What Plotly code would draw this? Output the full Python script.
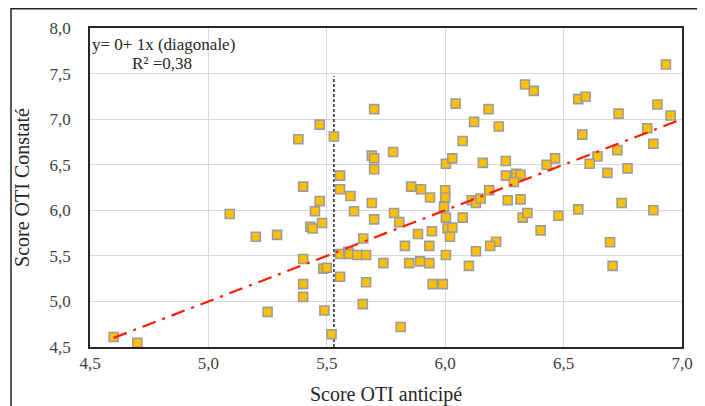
import plotly.graph_objects as go

# Anticipated score (x) and observed score (y)
score_anticipe = [
    4.60, 4.70, 5.09, 5.20, 5.29, 5.25, 5.38, 5.40, 5.47, 5.47,
    5.45, 5.43, 5.44, 5.48, 5.40, 5.485, 5.50, 5.40, 5.40, 5.49,
    5.52, 5.53, 5.556, 5.556, 5.60, 5.69, 5.615, 5.70, 5.70, 5.69,
    5.70, 5.78, 5.70, 5.784, 5.806, 5.856, 5.898, 5.936, 6.00, 6.00,
    5.995, 6.003, 6.01, 6.03, 6.02, 5.885, 5.944, 5.654, 5.83, 5.933,
    5.556, 5.59, 5.595, 5.629, 5.666, 5.739, 5.848, 5.894, 5.933, 6.003,
    5.556, 5.666, 5.947, 5.99, 5.652, 5.812, 6.003, 6.03, 6.337, 6.374,
    6.044, 6.183, 6.122, 6.226, 6.074, 6.159, 6.256, 6.464, 6.428, 6.256,
    6.30, 6.318, 6.29, 6.186, 6.112, 6.13, 6.15, 6.264, 6.318, 6.074,
    6.327, 6.347, 6.478, 6.403, 6.215, 6.19, 6.13, 6.10, 6.932, 6.562,
    6.593, 6.732, 6.896, 6.952, 6.579, 6.853, 6.879, 6.727, 6.643, 6.61,
    6.685, 6.77, 6.745, 6.562, 6.879, 6.696, 6.707,
]
score_constate = [
    4.61, 4.545, 5.96, 5.71, 5.73, 4.885, 6.78, 6.26, 6.94, 6.10,
    5.99, 5.82, 5.80, 5.86, 5.465, 5.36, 5.37, 5.19, 5.05, 4.90,
    4.64, 6.81, 6.38, 6.23, 6.157, 6.08, 5.99, 5.90, 7.11, 6.60,
    6.57, 6.64, 6.45, 5.97, 5.87, 6.26, 6.23, 6.14, 6.22, 6.14,
    6.04, 5.92, 5.80, 5.81, 5.71, 5.74, 5.77, 5.69, 5.61, 5.61,
    5.52, 5.545, 5.52, 5.51, 5.51, 5.42, 5.42, 5.44, 5.42, 5.51,
    5.27, 5.21, 5.19, 5.19, 4.97, 4.72, 6.51, 6.57, 7.38, 7.31,
    7.17, 7.11, 6.97, 6.92, 6.76, 6.52, 6.54, 6.57, 6.50, 6.38,
    6.40, 6.39, 6.31, 6.22, 6.11, 6.08, 6.13, 6.11, 6.12, 5.92,
    5.92, 5.97, 5.94, 5.78, 5.655, 5.61, 5.55, 5.39, 7.60, 7.22,
    7.245, 7.06, 7.16, 7.04, 6.83, 6.90, 6.73, 6.66, 6.59, 6.51,
    6.41, 6.46, 6.08, 6.01, 6.00, 5.65, 5.39,
]

# Diagonal reference line y = x
diag_x = [4.6, 7.0]
diag_y = [4.6, 7.0]

# Vertical dashed marker line
vline_x = [5.53, 5.53]
vline_y = [4.5, 7.47]

x_ticks = [4.5, 5.0, 5.5, 6.0, 6.5, 7.0]
x_tick_labels = ["4,5", "5,0", "5,5", "6,0", "6,5", "7,0"]
y_ticks = [4.5, 5.0, 5.5, 6.0, 6.5, 7.0, 7.5, 8.0]
y_tick_labels = ["4,5", "5,0", "5,5", "6,0", "6,5", "7,0", "7,5", "8,0"]

FONT = "Liberation Serif, Times New Roman, serif"

fig = go.Figure()

fig.add_trace(go.Scatter(
    x=vline_x, y=vline_y, mode="lines",
    line=dict(color="#262626", width=1.5, dash="3px,2px"),
    hoverinfo="skip", showlegend=False,
))

fig.add_trace(go.Scatter(
    x=score_anticipe, y=score_constate, mode="markers",
    marker=dict(symbol="square", size=9, color="#FFC000",
                line=dict(color="#9C9C9C", width=1.6)),
    showlegend=False,
))

fig.add_trace(go.Scatter(
    x=diag_x, y=diag_y, mode="lines",
    line=dict(color="#FF1A00", width=2.2, dash="14px,7px,3px,7px"),
    hoverinfo="skip", showlegend=False,
))

fig.update_layout(
    width=697, height=398,
    margin=dict(l=82, r=23, t=20, b=59),
    paper_bgcolor="white", plot_bgcolor="white",
    font=dict(family=FONT, color="#404040", size=17),
    xaxis=dict(
        range=[4.5, 7.0], tickvals=x_ticks, ticktext=x_tick_labels,
        showgrid=True, gridcolor="#D9D9D9", gridwidth=1,
        zeroline=False, showline=True, mirror=True,
        linecolor="#262626", linewidth=1.5, automargin=False,
        ticks="", ticklabelstandoff=0,
        tickfont=dict(family=FONT, size=17, color="#404040"),
        title=dict(text="Score OTI anticipé", standoff=16,
                   font=dict(family=FONT, size=20, color="#262626")),
    ),
    yaxis=dict(
        range=[4.5, 8.0], tickvals=y_ticks, ticktext=y_tick_labels,
        showgrid=True, gridcolor="#D9D9D9", gridwidth=1,
        zeroline=False, showline=True, mirror=True,
        linecolor="#262626", linewidth=1.5, automargin=False,
        ticks="", ticklabelstandoff=14,
        tickfont=dict(family=FONT, size=17, color="#404040"),
        title=dict(text="Score OTI Constaté", standoff=15,
                   font=dict(family=FONT, size=20, color="#262626")),
    ),
    shapes=[dict(
        type="rect", xref="paper", yref="paper",
        x0=-0.1334, x1=1.06, y0=-0.2, y1=1.0603,
        line=dict(color="#262626", width=1.5), fillcolor="rgba(0,0,0,0)",
        layer="below",
    )],
    annotations=[
        dict(xref="paper", yref="paper", x=0.0, y=0.985, xanchor="left", yanchor="top",
             text="y= 0+ 1x (diagonale)", showarrow=False,
             font=dict(family=FONT, size=17, color="#262626")),
        dict(xref="paper", yref="paper", x=0.068, y=0.925, xanchor="left", yanchor="top",
             text="R² =0,38", showarrow=False,
             font=dict(family=FONT, size=17, color="#262626")),
    ],
)

fig.write_html("out.html")
